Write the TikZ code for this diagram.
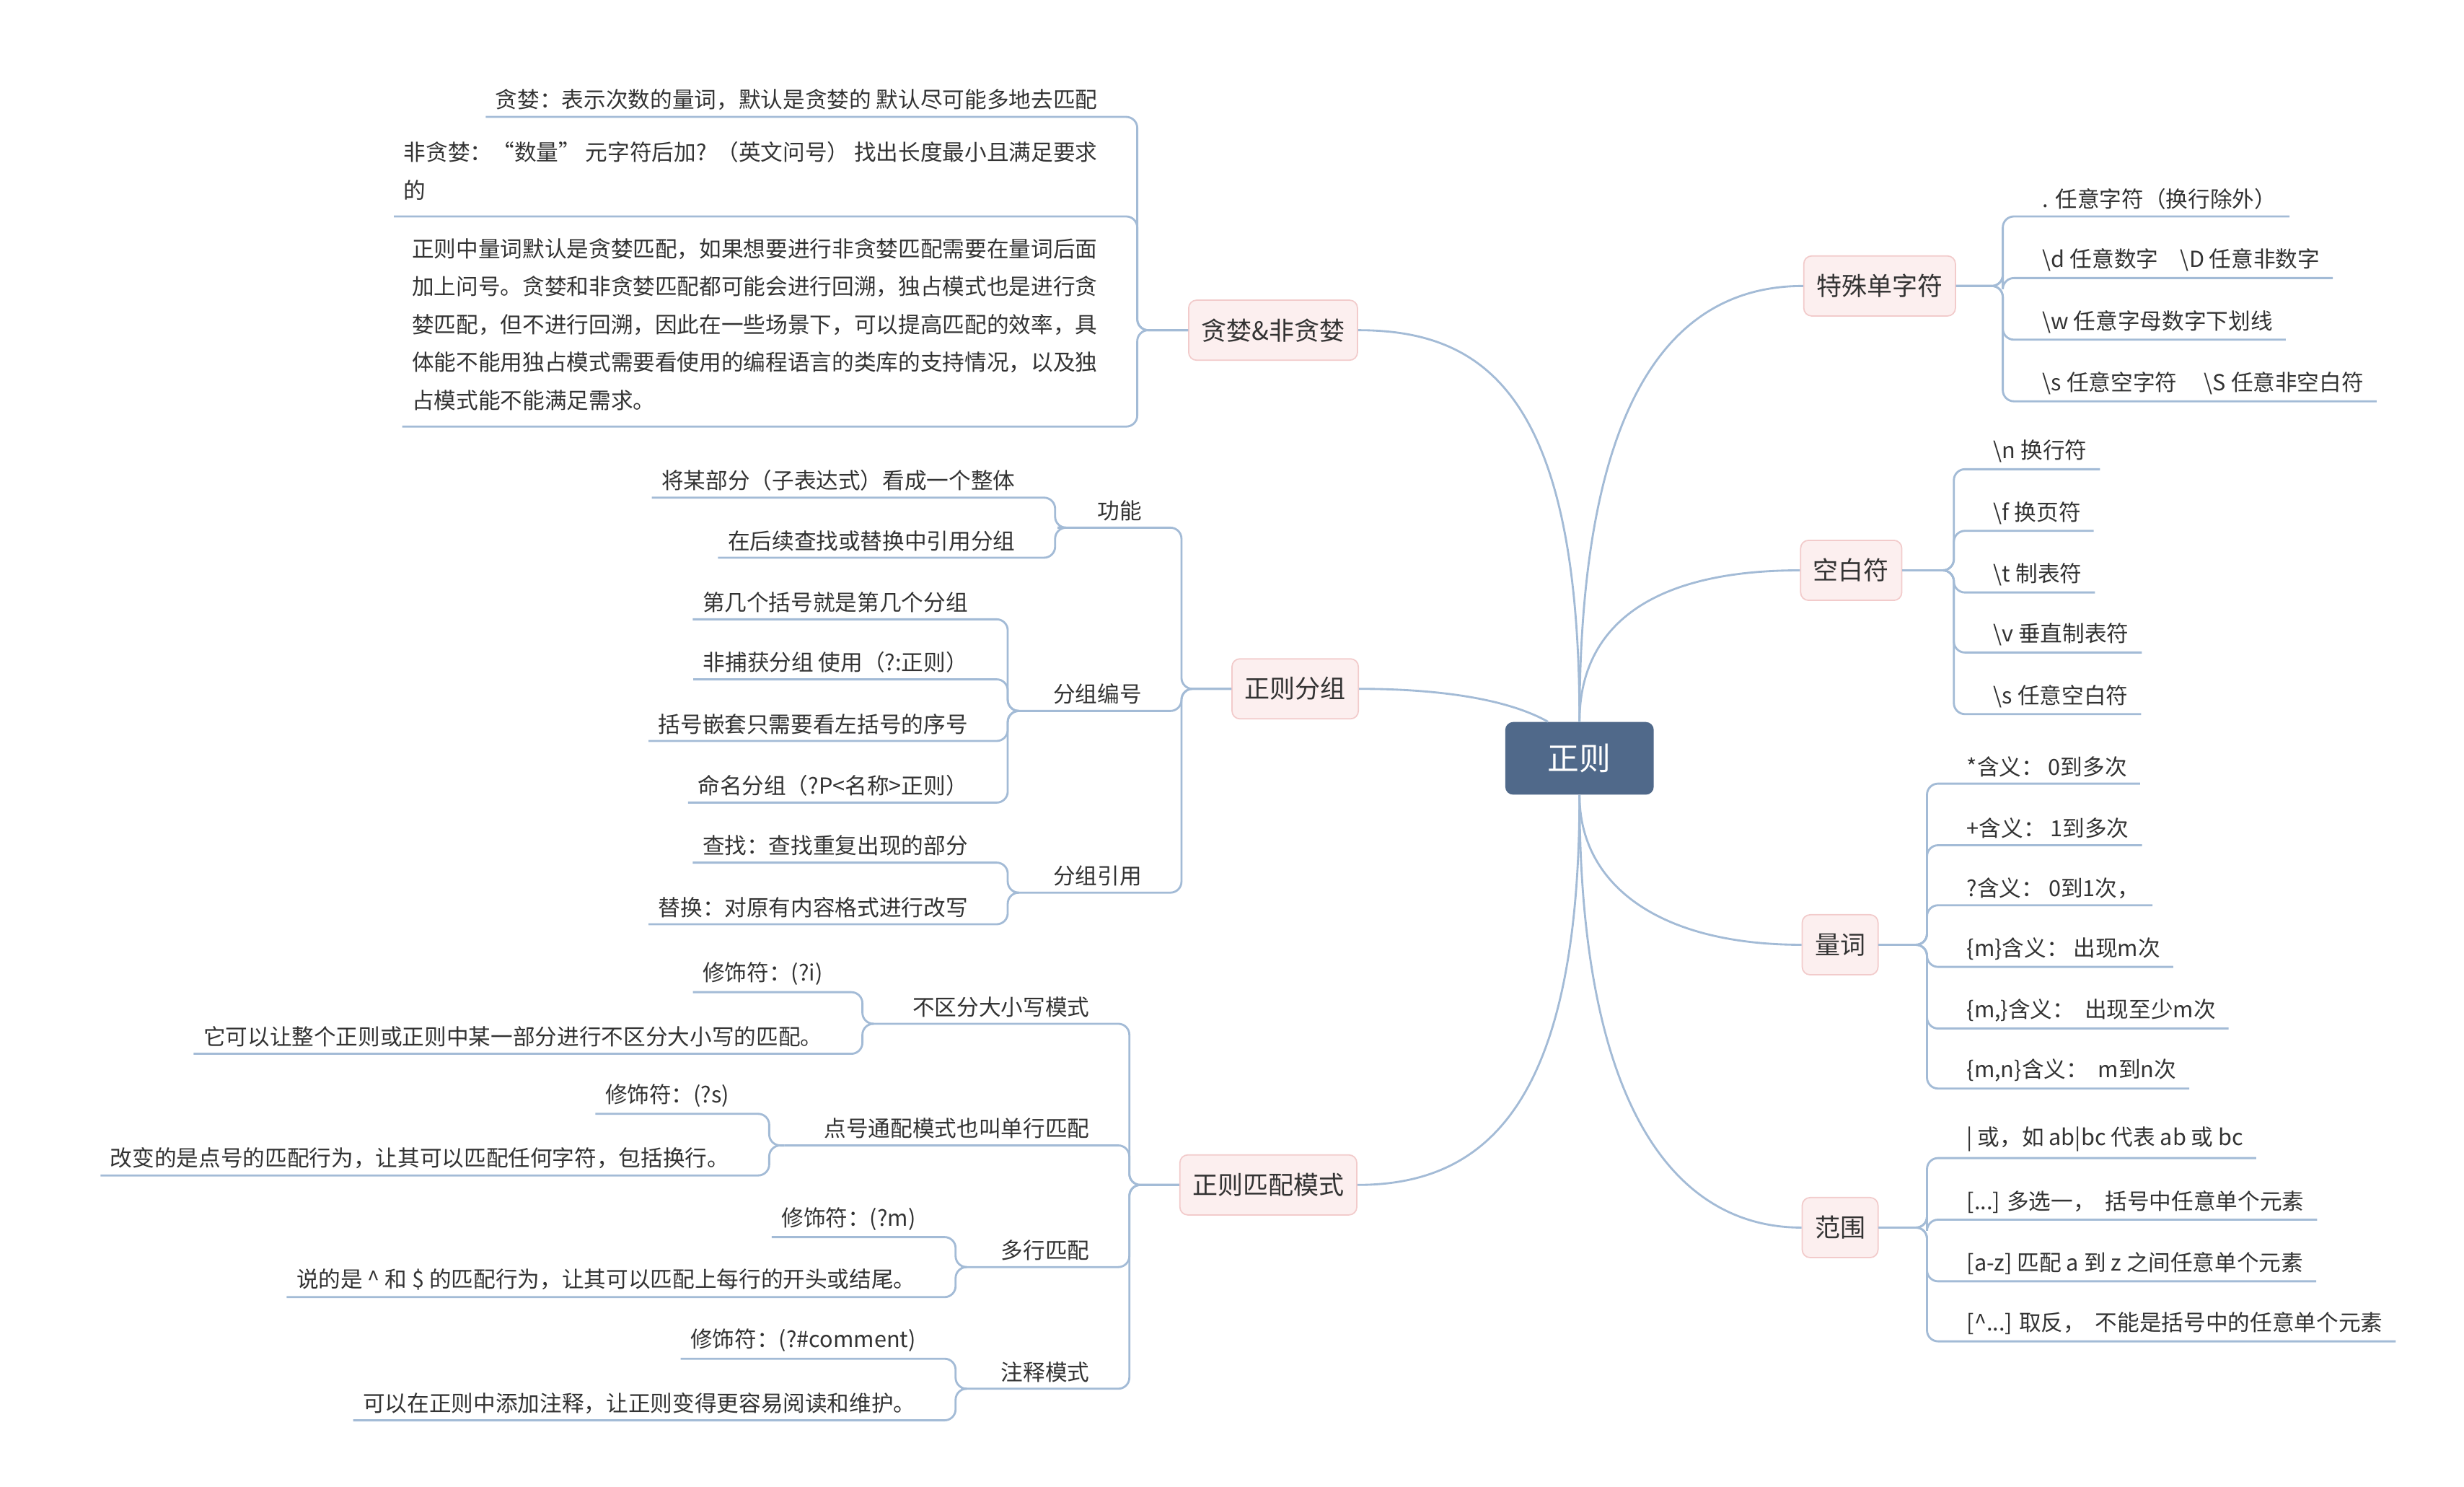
\documentclass[tikz,border=0pt]{standalone}
\usepackage{fontspec}
\setmainfont{Noto Sans CJK SC}
\usetikzlibrary{calc}
\definecolor{lc}{HTML}{A3BBD6}
\definecolor{rootc}{HTML}{50698A}
\definecolor{bf}{HTML}{FCEFEF}
\definecolor{bd}{HTML}{F2CBCB}
\definecolor{tc}{HTML}{333333}
\tikzset{
 conn/.style={draw=lc,line width=1.3pt},
 leaf/.style={font=\fontsize{14pt}{24pt}\selectfont,text=tc,inner xsep=0pt,inner ysep=4pt},
 branch/.style={draw=bd,fill=bf,rounded corners=5pt,minimum height=38pt,inner xsep=8pt,font=\fontsize{16pt}{18pt}\selectfont,text=tc,line width=0.8pt},
 rootbox/.style={fill=rootc,rounded corners=5pt,minimum height=46pt,minimum width=94pt,font=\fontsize{20pt}{22pt}\selectfont,text=white}
}
% right leaf: name, parent anchor, spineX, ulY, text
\newcommand\RL[5]{%
 \node[leaf,anchor=south west] (#1) at (#3+25,#4) {#5};
 \coordinate (#1-s) at (#3,#4);
 \draw[conn,rounded corners=7pt] (#2) -| (#1-s) -- ($(#1.south east)+(8,0)$);}
% left leaf: [pad], name, parent anchor, spineX, ulY, text
\newcommand\LL[6][6]{%
 \node[leaf,anchor=south east] (#2) at (#4-25,#5) {#6};
 \coordinate (#2-s) at (#4,#5);
 \coordinate (#2-e) at ($(#2.south west)+(-#1,0)$);
 \draw[conn,rounded corners=7pt] (#3) -| (#2-s) -- (#2-e);}
\begin{document}
\begin{tikzpicture}[x=1pt,y=-1pt]
\useasboundingbox (0,0) rectangle (1560,941);
\node[rootbox] (R) at (1000,480) {正则};
% right branches
\node[branch] (T) at (1190,181) {特殊单字符};
\node[branch] (K) at (1172,361) {空白符};
\node[branch] (L) at (1165,598) {量词};
\node[branch] (F) at (1165,777) {范围};
% left branches
\node[branch] (G) at (806,209) {贪婪\&非贪婪};
\node[branch] (Z) at (820,436) {正则分组};
\node[branch] (M) at (803,750) {正则匹配模式};
% root curves
\draw[conn] (R.north) .. controls (1000,250) and (1060,181) .. (T.west);
\draw[conn] (R.north) .. controls (1000,400) and (1040,361) .. (K.west);
\draw[conn] (R.south) .. controls (1000,560) and (1050,598) .. (L.west);
\draw[conn] (R.south) .. controls (1000,700) and (1060,777) .. (F.west);
\draw[conn] (R.north) .. controls (1000,250) and (940,209) .. (G.east);
\draw[conn] ($(R.north)+(-20,0)$) .. controls (950,440) and (900,436) .. (Z.east);
\draw[conn] (R.south) .. controls (1000,700) and (940,750) .. (M.east);
% 特殊单字符
\RL{t1}{T.east}{1268}{137}{. 任意字符（换行除外）}
\RL{t2}{T.east}{1268}{176}{\textbackslash d 任意数字\quad \textbackslash D 任意非数字}
\RL{t3}{T.east}{1268}{215}{\textbackslash w 任意字母数字下划线}
\RL{t4}{T.east}{1268}{254}{\textbackslash s 任意空字符\quad\ \textbackslash S 任意非空白符}
% 空白符
\RL{k1}{K.east}{1237}{297}{\textbackslash n 换行符}
\RL{k2}{K.east}{1237}{336}{\textbackslash f 换页符}
\RL{k3}{K.east}{1237}{375}{\textbackslash t 制表符}
\RL{k4}{K.east}{1237}{413}{\textbackslash v 垂直制表符}
\RL{k5}{K.east}{1237}{452}{\textbackslash s 任意空白符}
% 量词
\RL{l1}{L.east}{1220}{496}{*含义： 0到多次}
\RL{l2}{L.east}{1220}{535}{+含义： 1到多次}
\RL{l3}{L.east}{1220}{573}{?含义： 0到1次，}
\RL{l4}{L.east}{1220}{612}{\{m\}含义： 出现m次}
\RL{l5}{L.east}{1220}{651}{\{m,\}含义：\ \ 出现至少m次}
\RL{l6}{L.east}{1220}{689}{\{m,n\}含义：\ \ m到n次}
% 范围
\RL{f1}{F.east}{1220}{733}{| 或，如 ab|bc 代表 ab 或 bc}
\RL{f2}{F.east}{1220}{772}{[...] 多选一，\ \ 括号中任意单个元素}
\RL{f3}{F.east}{1220}{811}{[a-z] 匹配 a 到 z 之间任意单个元素}
\RL{f4}{F.east}{1220}{849}{[\textasciicircum...] 取反，\ \ 不能是括号中的任意单个元素}
% 贪婪
\LL{g1}{G.west}{720}{74}{贪婪：表示次数的量词，默认是贪婪的 默认尽可能多地去匹配}
\LL{g2}{G.west}{720}{137}{\begin{tabular}{@{}l@{}}非贪婪：“数量” 元字符后加?\ \ （英文问号） 找出长度最小且满足要求\\的\end{tabular}}
\LL{g3}{G.west}{720}{270}{\begin{tabular}{@{}l@{}}正则中量词默认是贪婪匹配，如果想要进行非贪婪匹配需要在量词后面\\加上问号。贪婪和非贪婪匹配都可能会进行回溯，独占模式也是进行贪\\婪匹配，但不进行回溯，因此在一些场景下，可以提高匹配的效率，具\\体能不能用独占模式需要看使用的编程语言的类库的支持情况，以及独\\占模式能不能满足需求。\end{tabular}}
% 正则分组
\LL[25]{z1}{Z.west}{748}{334}{功能}
\LL[25]{z2}{Z.west}{748}{450}{分组编号}
\LL[25]{z3}{Z.west}{748}{565}{分组引用}
\LL{z11}{z1-e}{668}{315}{将某部分（子表达式）看成一个整体}
\LL{z12}{z1-e}{668}{353}{在后续查找或替换中引用分组}
\LL{z21}{z2-e}{638}{392}{第几个括号就是第几个分组}
\LL{z22}{z2-e}{638}{430}{非捕获分组 使用（?:正则）}
\LL{z23}{z2-e}{638}{469}{括号嵌套只需要看左括号的序号}
\LL{z24}{z2-e}{638}{508}{命名分组（?P<名称>正则）}
\LL{z31}{z3-e}{638}{546}{查找：查找重复出现的部分}
\LL{z32}{z3-e}{638}{585}{替换：对原有内容格式进行改写}
% 正则匹配模式
\LL[25]{m1}{M.west}{715}{648}{不区分大小写模式}
\LL[25]{m2}{M.west}{715}{725}{点号通配模式也叫单行匹配}
\LL[25]{m3}{M.west}{715}{802}{多行匹配}
\LL[25]{m4}{M.west}{715}{879}{注释模式}
\LL{m11}{m1-e}{546}{628}{修饰符：(?i)}
\LL{m12}{m1-e}{546}{667}{它可以让整个正则或正则中某一部分进行不区分大小写的匹配。}
\LL{m21}{m2-e}{487}{705}{修饰符：(?s)}
\LL{m22}{m2-e}{487}{744}{改变的是点号的匹配行为，让其可以匹配任何字符，包括换行。}
\LL{m31}{m3-e}{605}{783}{修饰符：(?m)}
\LL{m32}{m3-e}{605}{821}{说的是 \textasciicircum{} 和 \$ 的匹配行为，让其可以匹配上每行的开头或结尾。}
\LL{m41}{m4-e}{605}{860}{修饰符：(?\#comment)}
\LL{m42}{m4-e}{605}{899}{可以在正则中添加注释，让正则变得更容易阅读和维护。}
\end{tikzpicture}
\end{document}
